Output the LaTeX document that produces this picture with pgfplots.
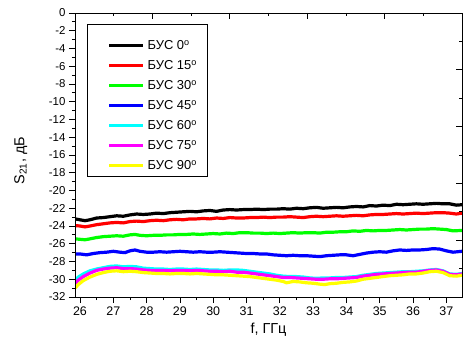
\documentclass[border=0pt]{standalone}
\usepackage{fontspec}
\setmainfont{Liberation Sans}
\usepackage{pgfplots}
\pgfplotsset{compat=1.18}
\definecolor{cgreen}{RGB}{0,255,0}
\definecolor{ccyan}{RGB}{0,255,255}
\definecolor{cmag}{RGB}{255,0,255}
\definecolor{cyel}{RGB}{255,255,0}
\begin{document}
\begin{tikzpicture}
\begin{axis}[
  scale only axis, width=387bp, height=284bp,
  xmin=25.85, xmax=37.47, ymin=-32, ymax=0,
  xtick={26,...,37}, minor x tick num=1,
  ytick={-32,-30,...,0}, minor y tick num=1,
  yticklabels={-32,-30,-28,-26,-24,-22,-20,-18,-16,-14,-12,-10,-8,-6,-4,-2,0},
  xtick pos=bottom, ytick pos=left, tick align=outside,
  major tick length=6bp, minor tick length=3bp,
  axis line style={line width=0.8bp}, every tick/.style={black, line width=0.8bp},
  /pgf/number format/assume math mode=true,
  xticklabel style={font=\fontsize{12.5}{12.5}\selectfont},
  yticklabel style={font=\fontsize{11.5}{11.5}\selectfont},
  xlabel={f, ГГц}, ylabel={S\textsubscript{21}, дБ},
  label style={font=\fontsize{14.5}{14.5}\selectfont},
  xlabel style={at={(axis description cs:0.5,-0.116)}, anchor=center},
  ylabel style={at={(axis description cs:-0.14,0.48)}, anchor=center},
  legend cell align=left,
  legend style={at={(axis description cs:0.031,0.961)}, anchor=north west,
    draw=black, line width=0.8bp, font=\fontsize{13}{13}\selectfont,
    inner xsep=10bp, inner ysep=1bp, row sep=0pt, column sep=3bp,
    nodes={inner sep=0pt, text height=14bp, text depth=6bp}},
  legend image code/.code={\path (0bp,0bp); \draw[#1, line width=3.2bp] (10bp,0bp) -- (44bp,0bp);},
  every axis plot/.append style={line width=3.2bp},
]
\addlegendimage{empty legend}
\addlegendentry[text height=10bp, text depth=0pt]{}
\addplot[black] coordinates {
(25.85,-23.2)(26.0,-23.3)(26.15,-23.4)(26.3,-23.3)(26.5,-23.1)(26.7,-23.05)(26.9,-22.95)(27.1,-22.85)(27.3,-22.9)(27.5,-22.75)(27.7,-22.65)(27.9,-22.7)(28.1,-22.65)(28.3,-22.55)(28.5,-22.6)(28.7,-22.5)(28.9,-22.45)(29.1,-22.4)(29.3,-22.35)(29.5,-22.4)(29.7,-22.3)(29.9,-22.25)(30.1,-22.35)(30.3,-22.2)(30.5,-22.15)(30.7,-22.2)(30.9,-22.15)(31.1,-22.15)(31.3,-22.1)(31.5,-22.15)(31.7,-22.1)(31.9,-22.1)(32.1,-22.05)(32.3,-22.1)(32.5,-22.0)(32.7,-22.05)(32.9,-21.95)(33.1,-21.9)(33.3,-22.0)(33.5,-21.95)(33.7,-21.9)(33.9,-21.95)(34.1,-21.85)(34.3,-21.8)(34.5,-21.85)(34.7,-21.7)(34.9,-21.75)(35.1,-21.65)(35.3,-21.7)(35.5,-21.55)(35.7,-21.6)(35.9,-21.55)(36.1,-21.5)(36.3,-21.55)(36.5,-21.5)(36.7,-21.45)(36.9,-21.5)(37.1,-21.5)(37.3,-21.65)(37.47,-21.6)};
\addlegendentry{БУС 0\textsuperscript{o}}
\addplot[red] coordinates {
(25.85,-23.95)(26.0,-24.0)(26.15,-24.1)(26.3,-24.0)(26.5,-23.85)(26.7,-23.75)(26.9,-23.65)(27.1,-23.6)(27.3,-23.65)(27.5,-23.5)(27.7,-23.45)(27.9,-23.5)(28.1,-23.4)(28.3,-23.35)(28.5,-23.4)(28.7,-23.3)(28.9,-23.25)(29.1,-23.3)(29.3,-23.2)(29.5,-23.2)(29.7,-23.15)(29.9,-23.2)(30.1,-23.1)(30.3,-23.15)(30.5,-23.05)(30.7,-23.1)(30.9,-23.1)(31.1,-23.05)(31.3,-23.05)(31.5,-23.0)(31.7,-23.05)(31.9,-23.0)(32.1,-23.0)(32.3,-22.95)(32.5,-23.0)(32.7,-23.05)(32.9,-22.95)(33.1,-22.9)(33.3,-22.95)(33.5,-22.9)(33.7,-22.85)(33.9,-22.9)(34.1,-22.85)(34.3,-22.8)(34.5,-22.85)(34.7,-22.75)(34.9,-22.7)(35.1,-22.7)(35.3,-22.65)(35.5,-22.6)(35.7,-22.65)(35.9,-22.6)(36.1,-22.55)(36.3,-22.6)(36.5,-22.55)(36.7,-22.5)(36.9,-22.5)(37.1,-22.55)(37.3,-22.65)(37.47,-22.55)};
\addlegendentry{БУС 15\textsuperscript{o}}
\addplot[cgreen] coordinates {
(25.85,-25.45)(26.0,-25.5)(26.15,-25.55)(26.3,-25.45)(26.5,-25.3)(26.7,-25.2)(26.9,-25.15)(27.1,-25.1)(27.3,-25.15)(27.5,-25.0)(27.65,-24.95)(27.8,-25.05)(28.0,-25.1)(28.2,-25.05)(28.4,-25.05)(28.6,-25.0)(28.8,-25.0)(29.0,-24.95)(29.2,-24.95)(29.4,-24.9)(29.6,-24.95)(29.8,-24.9)(30.0,-24.85)(30.2,-24.9)(30.4,-24.8)(30.6,-24.85)(30.8,-24.75)(31.0,-24.75)(31.2,-24.8)(31.4,-24.8)(31.6,-24.85)(31.8,-24.8)(32.0,-24.85)(32.2,-24.8)(32.4,-24.75)(32.6,-24.8)(32.8,-24.75)(33.0,-24.75)(33.2,-24.8)(33.4,-24.7)(33.6,-24.7)(33.8,-24.65)(34.0,-24.65)(34.2,-24.55)(34.4,-24.6)(34.6,-24.5)(34.8,-24.55)(35.0,-24.5)(35.2,-24.5)(35.4,-24.45)(35.6,-24.4)(35.8,-24.45)(36.0,-24.4)(36.2,-24.35)(36.4,-24.35)(36.6,-24.3)(36.8,-24.35)(37.0,-24.4)(37.2,-24.55)(37.47,-24.5)};
\addlegendentry{БУС 30\textsuperscript{o}}
\addplot[blue] coordinates {
(25.85,-27.15)(26.0,-27.15)(26.2,-27.25)(26.4,-27.1)(26.6,-27.0)(26.8,-26.95)(27.0,-26.85)(27.2,-26.95)(27.35,-27.0)(27.5,-26.8)(27.65,-26.7)(27.8,-26.85)(28.0,-26.95)(28.2,-26.95)(28.4,-26.9)(28.6,-26.95)(28.8,-26.9)(29.0,-26.85)(29.2,-26.9)(29.4,-26.95)(29.6,-26.9)(29.8,-26.95)(30.0,-26.95)(30.2,-26.9)(30.4,-26.95)(30.6,-27.0)(30.8,-27.05)(31.0,-27.1)(31.2,-27.1)(31.4,-27.15)(31.6,-27.15)(31.8,-27.25)(32.0,-27.3)(32.2,-27.35)(32.4,-27.3)(32.6,-27.35)(32.8,-27.35)(33.0,-27.4)(33.2,-27.45)(33.4,-27.35)(33.6,-27.3)(33.8,-27.25)(34.0,-27.25)(34.2,-27.35)(34.4,-27.2)(34.6,-27.05)(34.8,-26.95)(35.0,-26.9)(35.2,-26.95)(35.4,-26.8)(35.6,-26.7)(35.8,-26.75)(36.0,-26.7)(36.2,-26.7)(36.4,-26.65)(36.6,-26.55)(36.8,-26.6)(37.0,-26.8)(37.2,-26.95)(37.47,-26.85)};
\addlegendentry{БУС 45\textsuperscript{o}}
\addplot[ccyan] coordinates {
(25.85,-30.1)(25.95,-29.75)(26.1,-29.4)(26.3,-29.05)(26.5,-28.85)(26.7,-28.7)(26.9,-28.55)(27.1,-28.5)(27.3,-28.6)(27.5,-28.55)(27.7,-28.6)(27.9,-28.75)(28.1,-28.8)(28.3,-28.85)(28.5,-28.85)(28.7,-28.9)(28.9,-28.85)(29.1,-28.85)(29.3,-28.9)(29.5,-28.85)(29.7,-28.9)(29.9,-28.95)(30.1,-28.95)(30.3,-29.0)(30.5,-28.95)(30.7,-28.95)(30.9,-29.0)(31.1,-29.1)(31.3,-29.2)(31.5,-29.3)(31.7,-29.4)(31.9,-29.55)(32.1,-29.65)(32.3,-29.7)(32.5,-29.7)(32.7,-29.75)(32.9,-29.85)(33.1,-29.9)(33.3,-29.85)(33.5,-29.85)(33.7,-29.8)(33.9,-29.8)(34.1,-29.75)(34.3,-29.7)(34.5,-29.55)(34.7,-29.45)(34.9,-29.35)(35.1,-29.3)(35.3,-29.25)(35.5,-29.2)(35.7,-29.15)(35.9,-29.15)(36.1,-29.1)(36.3,-29.05)(36.5,-28.95)(36.7,-28.9)(36.9,-29.05)(37.1,-29.4)(37.3,-29.45)(37.47,-29.35)};
\addlegendentry{БУС 60\textsuperscript{o}}
\addplot[cmag] coordinates {
(25.85,-30.45)(25.95,-30.1)(26.1,-29.7)(26.3,-29.3)(26.5,-29.0)(26.7,-28.85)(26.9,-28.75)(27.1,-28.7)(27.3,-28.8)(27.5,-28.8)(27.7,-28.85)(27.9,-28.95)(28.1,-29.0)(28.3,-29.0)(28.5,-29.0)(28.7,-29.05)(28.9,-29.0)(29.1,-29.0)(29.3,-29.05)(29.5,-29.0)(29.7,-29.05)(29.9,-29.1)(30.1,-29.1)(30.3,-29.15)(30.5,-29.1)(30.7,-29.2)(30.9,-29.2)(31.1,-29.3)(31.3,-29.4)(31.5,-29.5)(31.7,-29.6)(31.9,-29.7)(32.1,-29.8)(32.3,-29.8)(32.5,-29.85)(32.7,-29.9)(32.9,-29.95)(33.1,-30.0)(33.3,-30.0)(33.5,-29.95)(33.7,-29.95)(33.9,-29.9)(34.1,-29.85)(34.3,-29.8)(34.5,-29.65)(34.7,-29.55)(34.9,-29.45)(35.1,-29.4)(35.3,-29.35)(35.5,-29.3)(35.7,-29.25)(35.9,-29.2)(36.1,-29.2)(36.3,-29.1)(36.5,-29.0)(36.7,-28.95)(36.9,-29.1)(37.1,-29.45)(37.3,-29.5)(37.47,-29.4)};
\addlegendentry{БУС 75\textsuperscript{o}}
\addplot[cyel] coordinates {
(25.85,-31.0)(25.95,-30.6)(26.1,-30.15)(26.3,-29.75)(26.5,-29.45)(26.7,-29.25)(26.9,-29.1)(27.1,-29.05)(27.3,-29.15)(27.5,-29.1)(27.7,-29.15)(27.9,-29.25)(28.1,-29.3)(28.3,-29.35)(28.5,-29.35)(28.7,-29.4)(28.9,-29.35)(29.1,-29.35)(29.3,-29.4)(29.5,-29.35)(29.7,-29.4)(29.9,-29.45)(30.1,-29.5)(30.3,-29.5)(30.5,-29.55)(30.7,-29.6)(30.9,-29.65)(31.1,-29.7)(31.3,-29.8)(31.5,-29.9)(31.7,-30.0)(31.9,-30.1)(32.1,-30.25)(32.2,-30.4)(32.4,-30.25)(32.6,-30.3)(32.8,-30.4)(33.0,-30.45)(33.2,-30.55)(33.35,-30.6)(33.5,-30.5)(33.7,-30.45)(33.9,-30.35)(34.1,-30.3)(34.3,-30.2)(34.5,-30.0)(34.7,-29.9)(34.9,-29.8)(35.1,-29.7)(35.3,-29.6)(35.5,-29.55)(35.7,-29.5)(35.9,-29.4)(36.1,-29.4)(36.3,-29.3)(36.5,-29.15)(36.7,-29.1)(36.9,-29.25)(37.1,-29.6)(37.3,-29.65)(37.47,-29.55)};
\addlegendentry{БУС 90\textsuperscript{o}}
\end{axis}
\begin{axis}[
  scale only axis, width=387bp, height=284bp,
  xmin=0, xmax=10, ymin=0, ymax=10,
  xtick={2,4,6,8}, minor xtick={1,3,5,7,9},
  ytick={2,4,6,8}, minor ytick={1,3,5,7,9},
  xticklabels={}, yticklabels={},
  xtick pos=top, ytick pos=right, tick align=inside,
  major tick length=6bp, minor tick length=3bp,
  axis line style={line width=0.8bp}, every tick/.style={black, line width=0.8bp},
]
\end{axis}
\pgfresetboundingbox
\path[use as bounding box] (-75bp,-48bp) rectangle (388bp,297bp);
\end{tikzpicture}
\end{document}
